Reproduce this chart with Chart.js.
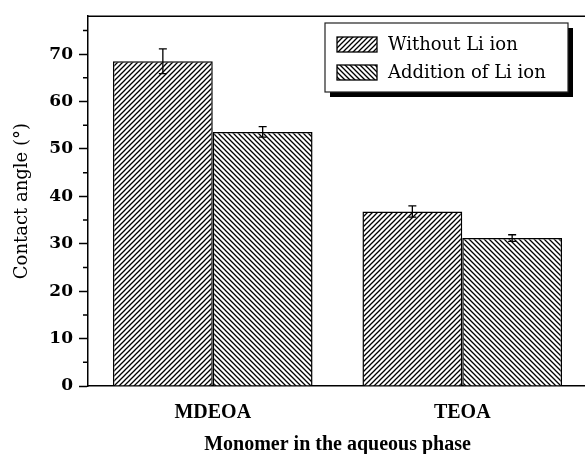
<!DOCTYPE html>
<html>
<head>
<meta charset="utf-8">
<script src="https://cdn.jsdelivr.net/npm/chart.js@4.4.1/dist/chart.umd.min.js"></script>
<style>
  html, body { margin: 0; padding: 0; background: #fff; overflow: hidden; }
  #wrap { width: 592px; height: 454px; }
</style>
</head>
<body>
<div id="wrap"><canvas id="chart" width="592" height="454"></canvas></div>
<script>
// ============ DATA ============

const categories = ['MDEOA', 'TEOA'];
const seriesNames = ['Without Li ion', 'Addition of Li ion'];
const withoutLi = [68.5, 36.8];
const withoutLiErr = [2.6, 1.2];
const withLi = [53.6, 31.2];
const withLiErr = [1.1, 0.7];
const yTicks = [0, 10, 20, 30, 40, 50, 60, 70];
const yMinorTicks = [5, 15, 25, 35, 45, 55, 65, 75];

const SERIF = "'DejaVu Serif', 'Liberation Serif', serif";
const TIMES = "'Liberation Serif', 'Times New Roman', serif";

// ============ PATTERNS ============

function hatch(forward) {
  const s = 5;
  const c = document.createElement('canvas');
  c.width = s;
  c.height = s;
  const g = c.getContext('2d');
  g.fillStyle = '#fff';
  g.fillRect(0, 0, s, s);
  g.strokeStyle = '#000';
  g.lineWidth = 1.3;
  g.beginPath();
  if (forward) {
    g.moveTo(-1, s + 1); g.lineTo(s + 1, -1);
    g.moveTo(-1, 1); g.lineTo(1, -1);
    g.moveTo(s - 1, s + 1); g.lineTo(s + 1, s - 1);
  } else {
    g.moveTo(-1, -1); g.lineTo(s + 1, s + 1);
    g.moveTo(s - 1, -1); g.lineTo(s + 1, 1);
    g.moveTo(-1, s - 1); g.lineTo(1, s + 1);
  }
  g.stroke();
  return g.createPattern(c, 'repeat');
}

const fwdPattern = hatch(true);
const backPattern = hatch(false);

// ============ PLUGINS ============

const extras = {
  id: 'extras',
  afterDatasetsDraw(chart) {
    const ctx = chart.ctx;
    const y = chart.scales.y;
    const area = chart.chartArea;

    // error bars
    const errs = [withoutLiErr, withLiErr];
    chart.data.datasets.forEach((ds, i) => {
      const meta = chart.getDatasetMeta(i);
      meta.data.forEach((bar, j) => {
        const v = ds.data[j];
        const top = y.getPixelForValue(v + errs[i][j]);
        const bot = y.getPixelForValue(v - errs[i][j]);
        ctx.save();
        ctx.strokeStyle = '#000';
        ctx.lineWidth = 1.3;
        ctx.beginPath();
        ctx.moveTo(bar.x, top); ctx.lineTo(bar.x, bot);
        ctx.moveTo(bar.x - 4, top); ctx.lineTo(bar.x + 4, top);
        ctx.moveTo(bar.x - 4, bot); ctx.lineTo(bar.x + 4, bot);
        ctx.stroke();
        ctx.restore();
      });
    });

    // minor ticks + top frame
    ctx.save();
    ctx.strokeStyle = '#000';
    ctx.lineWidth = 1.5;
    ctx.beginPath();
    yMinorTicks.forEach(v => {
      const py = y.getPixelForValue(v);
      ctx.moveTo(area.left - 5, py);
      ctx.lineTo(area.left, py);
    });
    ctx.moveTo(area.left, area.top);
    ctx.lineTo(chart.width, area.top);
    ctx.stroke();
    ctx.restore();

    // legend
    const bx = 325, by = 23, bw = 243, bh = 69;
    ctx.save();
    ctx.fillStyle = '#000';
    ctx.fillRect(bx + 5, by + 5, bw, bh);
    ctx.fillStyle = '#fff';
    ctx.fillRect(bx, by, bw, bh);
    ctx.strokeStyle = '#222';
    ctx.lineWidth = 1.2;
    ctx.strokeRect(bx, by, bw, bh);
    chart.data.datasets.forEach((ds, i) => {
      const sy = by + 14 + i * 28;
      ctx.fillStyle = ds.backgroundColor;
      ctx.fillRect(bx + 12, sy, 40, 15);
      ctx.strokeStyle = '#000';
      ctx.lineWidth = 1.3;
      ctx.strokeRect(bx + 12, sy, 40, 15);
      ctx.fillStyle = '#000';
      ctx.font = '18px ' + SERIF;
      ctx.textBaseline = 'middle';
      ctx.fillText(ds.label, bx + 63, sy + 8);
    });
    ctx.restore();
  }
};

// ============ CHART ============

new Chart(document.getElementById('chart'), {
  type: 'bar',
  data: {
    labels: categories,
    datasets: [
      {
        label: seriesNames[0],
        data: withoutLi,
        backgroundColor: fwdPattern,
        borderColor: '#000',
        borderWidth: 1.5,
        borderSkipped: 'bottom'
      },
      {
        label: seriesNames[1],
        data: withLi,
        backgroundColor: backPattern,
        borderColor: '#000',
        borderWidth: 1.5,
        borderSkipped: 'bottom'
      }
    ]
  },
  options: {
    responsive: false,
    animation: false,
    layout: { padding: { top: 14, right: 5, left: 0, bottom: 0 } },
    datasets: {
      bar: { categoryPercentage: 0.8, barPercentage: 1.0 }
    },
    plugins: {
      legend: { display: false },
      tooltip: { enabled: false }
    },
    scales: {
      x: {
        grid: { display: false, drawTicks: false },
        border: { color: '#000', width: 1.5 },
        ticks: {
          color: '#000',
          padding: 15,
          font: { family: TIMES, size: 20, weight: 'bold' }
        },
        title: {
          display: true,
          text: 'Monomer in the aqueous phase',
          color: '#000',
          padding: { top: 3, bottom: -3 },
          font: { family: TIMES, size: 20, weight: 'bold' }
        },
        afterFit(scale) { scale.height = 68; }
      },
      y: {
        min: 0,
        max: 78,
        grid: {
          drawOnChartArea: false,
          tickLength: 9,
          tickColor: '#000',
          tickWidth: 1.5
        },
        border: { color: '#000', width: 1.5 },
        ticks: {
          stepSize: 10,
          includeBounds: false,
          color: '#000',
          padding: 6,
          font: { family: SERIF, size: 17, weight: 'bold' },
          callback: v => yTicks.includes(v) ? v : ''
        },
        title: {
          display: true,
          text: 'Contact angle (°)',
          color: '#000',
          padding: { top: 12, bottom: 0 },
          font: { family: SERIF, size: 18 }
        },
        afterFit(scale) { scale.width = 88; }
      }
    }
  },
  plugins: [extras]
});
</script>
</body>
</html>
